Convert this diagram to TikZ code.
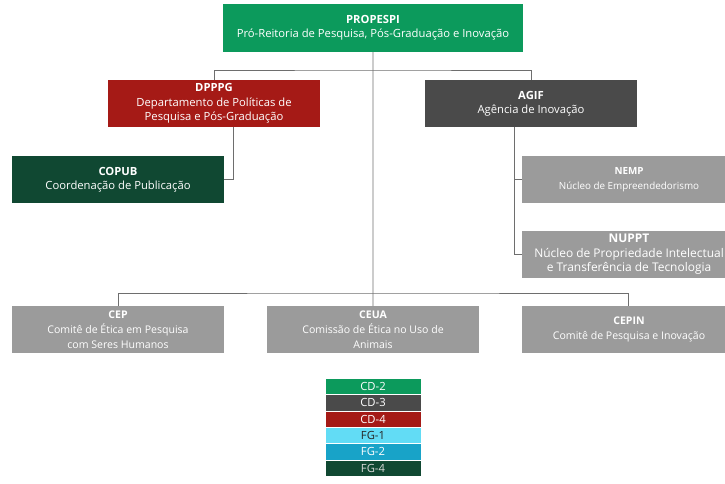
\documentclass[tikz,border=0pt]{standalone}
\usepackage{fontspec}
\setmainfont{Open Sans}
\usetikzlibrary{positioning}

\definecolor{propgreen}{RGB}{12,154,92}
\definecolor{deepred}{RGB}{165,26,22}
\definecolor{darkgrey}{RGB}{74,74,74}
\definecolor{deepgreen}{RGB}{16,72,50}
\definecolor{midgrey}{RGB}{155,155,155}
\definecolor{lightcyan}{RGB}{98,220,245}
\definecolor{midcyan}{RGB}{24,163,200}
\definecolor{linegrey}{RGB}{110,110,110}

\tikzset{
  unit/.style={anchor=north west, inner sep=0pt, outer sep=0pt, align=center,
    minimum width=5.3cm, minimum height=1.18cm, text=white,
    font=\fontsize{8}{10.3}\selectfont},
  headunit/.style={unit, fill=propgreen, minimum width=7.5cm, minimum height=1.2cm},
  subunit/.style={unit, fill=midgrey, minimum width=5.35cm,
    font=\fontsize{7.5}{10.5}\selectfont},
  legendbox/.style={anchor=north west, inner sep=0pt, outer sep=0pt,
    minimum width=2.4cm, minimum height=0.41cm, draw=white, line width=0.4pt,
    text=white, font=\fontsize{8}{9}\selectfont},
  link/.style={draw=linegrey, line width=0.5pt}
}

\begin{document}
\begin{tikzpicture}[x=0.025cm, y=-0.025cm]
    \clip (0,0) rectangle (725,483);
    % main unit
    \node[headunit] (propespi) at (223,4) {\textbf{PROPESPI}\\Pró-Reitoria de Pesquisa, Pós-Graduação e Inovação};
    % second level
    \node[unit, fill=deepred] (dpppg) at (108,80) {\textbf{DPPPG}\\Departamento de Políticas de\\Pesquisa e Pós-Graduação};
    \node[unit, fill=darkgrey] (agif) at (425,80) {\textbf{AGIF}\\Agência de Inovação};
    % under DPPPG
    \node[unit, fill=deepgreen] (copub) at (12,156) {\textbf{COPUB}\\Coordenação de Publicação};
    % under AGIF
    \node[subunit, font=\fontsize{7}{10.5}\selectfont] (nemp) at (522,156) {\textbf{NEMP}\\Núcleo de Empreendedorismo};
    \node[subunit, font=\fontsize{8.5}{10.3}\selectfont] (nuppt) at (522,231) {\textbf{NUPPT}\\Núcleo de Propriedade Intelectual\\e Transferência de Tecnologia};
    % committees
    \node[subunit, minimum width=5.3cm] (cep) at (12,306) {\textbf{CEP}\\Comitê de Ética em Pesquisa\\com Seres Humanos};
    \node[subunit, minimum width=5.3cm] (ceua) at (267,306) {\textbf{CEUA}\\Comissão de Ética no Uso de\\Animais};
    \node[subunit] (cepin) at (522,306) {\textbf{CEPIN}\\Comitê de Pesquisa e Inovação};
    % bus points
    \coordinate (upbus) at (373,70);
    \coordinate (lowbus) at (373,293);
    % connectors
    \draw[link] (propespi.south) -- (ceua.north);
    \draw[link] (dpppg.north) |- (upbus) -| (agif.north);
    \draw[link] ([xshift=19*0.025cm]dpppg.south) |- (copub.east);
    \draw[link] ([xshift=-17*0.025cm]agif.south) |- (nemp.west);
    \draw[link] ([xshift=-17*0.025cm]agif.south) |- (nuppt.west);
    \draw[link] (cep.north) |- (lowbus) -| ([xshift=-1*0.025cm]cepin.north);
    % legend
    \node[legendbox, fill=propgreen] (cdtwo) at (325,378) {CD-2};
    \node[legendbox, fill=darkgrey, below=0pt of cdtwo] (cdthree) {CD-3};
    \node[legendbox, fill=deepred, below=0pt of cdthree] (cdfour) {CD-4};
    \node[legendbox, fill=lightcyan, text=black!85, below=0pt of cdfour] (fgone) {FG-1};
    \node[legendbox, fill=midcyan, below=0pt of fgone] (fgtwo) {FG-2};
    \node[legendbox, fill=deepgreen, text=white!85!black, below=0pt of fgtwo] (fgfour) {FG-4};
\end{tikzpicture}
\end{document}
